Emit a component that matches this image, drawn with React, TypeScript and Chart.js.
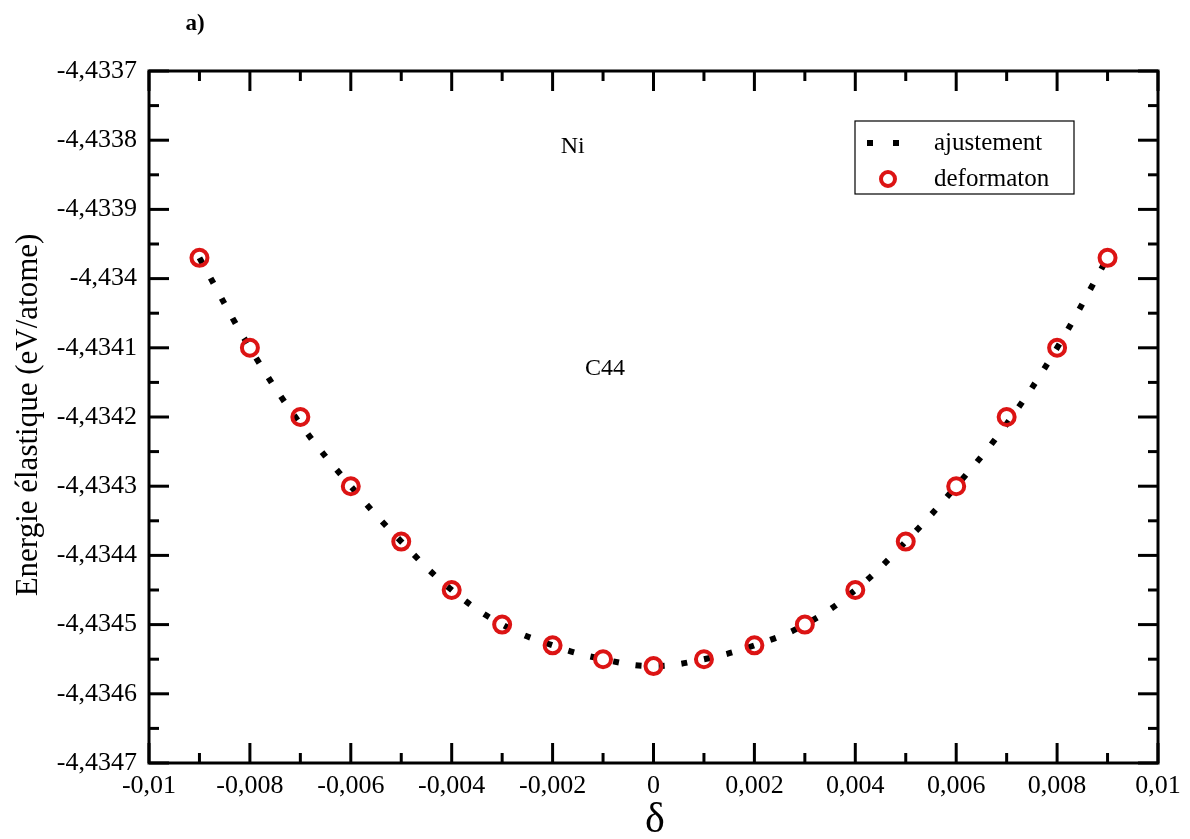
import React, { useEffect, useRef } from "react";
import { Chart, registerables } from "chart.js";

Chart.register(...registerables);

const deltas = [-0.009, -0.008, -0.007, -0.006, -0.005, -0.004, -0.003, -0.002, -0.001, 0, 0.001, 0.002, 0.003, 0.004, 0.005, 0.006, 0.007, 0.008, 0.009];
const energies = [-4.43397, -4.4341, -4.4342, -4.4343, -4.43438, -4.43445, -4.4345, -4.43453, -4.43455, -4.43456, -4.43455, -4.43453, -4.4345, -4.43445, -4.43438, -4.4343, -4.4342, -4.4341, -4.43397];
const fitDeltas = [-0.009, -0.008, -0.007, -0.006, -0.005, -0.004, -0.003, -0.002, -0.001, 0, 0.001, 0.002, 0.003, 0.004, 0.005, 0.006, 0.007, 0.008, 0.009];
const fitEnergies = [-4.43397, -4.4341, -4.43421, -4.4343, -4.43438, -4.43445, -4.4345, -4.43453, -4.43455, -4.43456, -4.43455, -4.43453, -4.4345, -4.43445, -4.43438, -4.4343, -4.43421, -4.4341, -4.43397];

const xMin = -0.01, xMax = 0.01, xStep = 0.002;
const yMin = -4.4347, yMax = -4.4337, yStep = 0.0001;
const seriesLabels = ["ajustement", "deformaton"];
const annotations = [
  { text: "Ni", x: -0.0016, y: -4.43381 },
  { text: "C44", x: -0.00096, y: -4.43413 },
];

const RED = "#dc1414";
const SERIF = "'Liberation Serif', 'Times New Roman', serif";

const fmtX = (v: number) => {
  const n = Number(v.toFixed(3));
  return (n === 0 ? "0" : String(n)).replace(".", ",");
};
const fmtY = (v: number) => String(Number(v.toFixed(4))).replace(".", ",");

const framePlugin = {
  id: "frame",
  afterDraw(chart: any) {
    const { ctx, chartArea: a, scales } = chart;
    const xs = scales.x, ys = scales.y;
    ctx.save();
    ctx.strokeStyle = "#000";
    ctx.lineWidth = 3;
    ctx.lineCap = "square";
    ctx.strokeRect(a.left, a.top, a.right - a.left, a.bottom - a.top);
    ctx.lineCap = "butt";
    const xt = xs.ticks.map((t: any) => t.value);
    const yt = ys.ticks.map((t: any) => t.value);
    const tick = (x1: number, y1: number, x2: number, y2: number) => {
      ctx.beginPath(); ctx.moveTo(x1, y1); ctx.lineTo(x2, y2); ctx.stroke();
    };
    const major = 20, minor = 10;
    xt.forEach((v: number, i: number) => {
      const p = xs.getPixelForValue(v);
      tick(p, a.bottom, p, a.bottom - major);
      tick(p, a.top, p, a.top + major);
      if (i < xt.length - 1) {
        const m = xs.getPixelForValue((v + xt[i + 1]) / 2);
        tick(m, a.bottom, m, a.bottom - minor);
        tick(m, a.top, m, a.top + minor);
      }
    });
    yt.forEach((v: number, i: number) => {
      const p = ys.getPixelForValue(v);
      tick(a.left, p, a.left + major, p);
      tick(a.right, p, a.right - major, p);
      if (i < yt.length - 1) {
        const m = ys.getPixelForValue((v + yt[i + 1]) / 2);
        tick(a.left, m, a.left + minor, m);
        tick(a.right, m, a.right - minor, m);
      }
    });

    // annotations
    ctx.fillStyle = "#000";
    ctx.font = `24px ${SERIF}`;
    ctx.textAlign = "center";
    ctx.textBaseline = "middle";
    annotations.forEach((an) => {
      ctx.fillText(an.text, xs.getPixelForValue(an.x), ys.getPixelForValue(an.y));
    });

    // titles
    ctx.font = `bold 23px ${SERIF}`;
    ctx.fillText("a)", 195, 24);
    ctx.font = `42px ${SERIF}`;
    ctx.textBaseline = "alphabetic";
    ctx.fillText("δ", 655, 832);
    ctx.save();
    ctx.translate(29, 415);
    ctx.rotate(-Math.PI / 2);
    ctx.font = `31px ${SERIF}`;
    ctx.textBaseline = "middle";
    ctx.fillText("Energie élastique (eV/atome)", 0, 0);
    ctx.restore();

    // legend
    const lx = 855, ly = 121, lw = 219, lh = 73;
    ctx.lineWidth = 1.2;
    ctx.strokeRect(lx, ly, lw, lh);
    ctx.fillStyle = "#000";
    ctx.fillRect(867, 140, 6, 6);
    ctx.fillRect(893, 140, 6, 6);
    ctx.beginPath();
    ctx.strokeStyle = RED;
    ctx.lineWidth = 4;
    ctx.arc(888, 179, 7, 0, Math.PI * 2);
    ctx.stroke();
    ctx.fillStyle = "#000";
    ctx.font = `25px ${SERIF}`;
    ctx.textAlign = "left";
    ctx.textBaseline = "middle";
    ctx.fillText(seriesLabels[0], 934, 143);
    ctx.fillText(seriesLabels[1], 934, 179);
    ctx.restore();
  },
};

export default function App() {
  const ref = useRef<HTMLCanvasElement | null>(null);
  useEffect(() => {
    if (!ref.current) return;
    const chart = new Chart(ref.current, {
      type: "scatter",
      data: {
        datasets: [
          {
            label: seriesLabels[1],
            data: deltas.map((x, i) => ({ x, y: energies[i] })),
            pointRadius: 8,
            pointBorderWidth: 4,
            pointBorderColor: RED,
            pointBackgroundColor: "rgba(0,0,0,0)",
            showLine: false,
          },
          {
            label: seriesLabels[0],
            data: fitDeltas.map((x, i) => ({ x, y: fitEnergies[i] })),
            showLine: true,
            borderColor: "#000",
            borderWidth: 6,
            borderDash: [6, 17],
            borderCapStyle: "butt",
            tension: 0.4,
            pointRadius: 0,
          },
        ],
      },
      options: {
        animation: false,
        responsive: true,
        maintainAspectRatio: false,
        layout: { padding: { top: 71, right: 32, left: 0, bottom: 0 } },
        plugins: { legend: { display: false }, tooltip: { enabled: false } },
        scales: {
          x: {
            type: "linear",
            min: xMin,
            max: xMax,
            grid: { display: false, drawTicks: false },
            border: { display: false },
            ticks: {
              stepSize: xStep,
              padding: 8,
              color: "#000",
              font: { family: SERIF, size: 26 },
              callback: (v: any) => fmtX(Number(v)),
              maxRotation: 0,
              autoSkip: false,
            },
            afterFit: (s: any) => { s.height = 76; },
          },
          y: {
            type: "linear",
            min: yMin,
            max: yMax,
            grid: { display: false, drawTicks: false },
            border: { display: false },
            ticks: {
              stepSize: yStep,
              padding: 12,
              color: "#000",
              font: { family: SERIF, size: 26 },
              callback: (v: any) => fmtY(Number(v)),
              autoSkip: false,
            },
            afterFit: (s: any) => { s.width = 149; },
          },
        },
      },
      plugins: [framePlugin],
    });
    return () => chart.destroy();
  }, []);
  return (
    <div style={{ position: "fixed", left: 0, top: 0, width: 1190, height: 839, background: "#fff" }}>
      <canvas ref={ref} />
    </div>
  );
}
